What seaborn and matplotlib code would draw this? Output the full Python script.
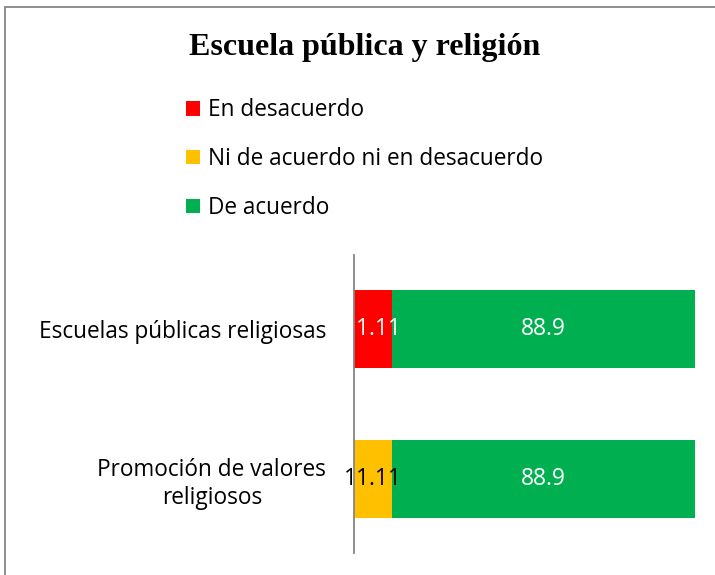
import matplotlib
matplotlib.use('Agg')
import matplotlib.pyplot as plt
import seaborn as sns
import pandas as pd
from matplotlib.patches import Patch, Rectangle

sns.set_style('white', rc={'text.color': 'black', 'axes.labelcolor': 'black',
                           'xtick.color': 'black', 'ytick.color': 'black'})
plt.rcParams['font.family'] = ['Open Sans', 'DejaVu Sans']

# Data
categories = ['Escuelas públicas religiosas', 'Promoción de valores\nreligiosos']
series_names = ['En desacuerdo', 'Ni de acuerdo ni en desacuerdo', 'De acuerdo']
en_desacuerdo = [11.11, 0.0]
ni_acuerdo = [0.0, 11.11]
de_acuerdo = [88.9, 88.9]
colors = ['#ff0000', '#ffc000', '#00b050']
label_colors = ['white', 'black', 'white']

df = pd.DataFrame({'cat': categories, series_names[0]: en_desacuerdo,
                   series_names[1]: ni_acuerdo, series_names[2]: de_acuerdo})

fig = plt.figure(figsize=(7.15, 5.75), dpi=100)
ax = fig.add_axes([354 / 715, 1 - 553 / 575, (695 - 354) / 715, 298 / 575])

# stacked bars: draw cumulative totals from the back to the front
cum = df[series_names].cumsum(axis=1)
for name, col in reversed(list(zip(series_names, colors))):
    sns.barplot(x=cum[name], y=df['cat'], orient='h', color=col,
                width=0.52, saturation=1, ax=ax, edgecolor='none')

# segment labels
left = [0.0] * len(categories)
for name, tc in zip(series_names, label_colors):
    for i, v in enumerate(df[name]):
        if v > 0:
            ax.text(left[i] + v / 2, i, f'{v:g}', ha='center', va='center',
                    color=tc, fontsize=16.5)
        left[i] += v

ax.set_xlim(0, 100.01)
ax.set_ylim(1.493, -0.493)
ax.set_xlabel('')
ax.set_ylabel('')
ax.set_xticks([])
for s in ['top', 'right', 'bottom']:
    ax.spines[s].set_visible(False)
ax.spines['left'].set_color('#868686')
ax.spines['left'].set_linewidth(1.3)
ax.tick_params(axis='y', length=0, labelsize=16.3, pad=20)
for t in ax.get_yticklabels():
    t.set_multialignment('center')

fig.text(365 / 715, 1 - 47 / 575, 'Escuela pública y religión', ha='center', va='center',
         fontsize=23, fontweight='bold', family='Liberation Serif')

handles = [Patch(facecolor=c, edgecolor='none') for c in colors]
fig.legend(handles, series_names, loc='upper left', bbox_to_anchor=(166 / 715, 1 - 78 / 575),
           frameon=False, fontsize=16.3, handlelength=0.6, handleheight=0.6,
           handletextpad=0.35, labelspacing=1.1)

# outer chart border (cut off on the right and bottom)
fig.patches.append(Rectangle((5 / 715, -0.1), 1.2, 1.1 - 7 / 575, transform=fig.transFigure,
                             fill=False, edgecolor='#868686', linewidth=1.3))

fig.savefig('out.png', dpi=100)
